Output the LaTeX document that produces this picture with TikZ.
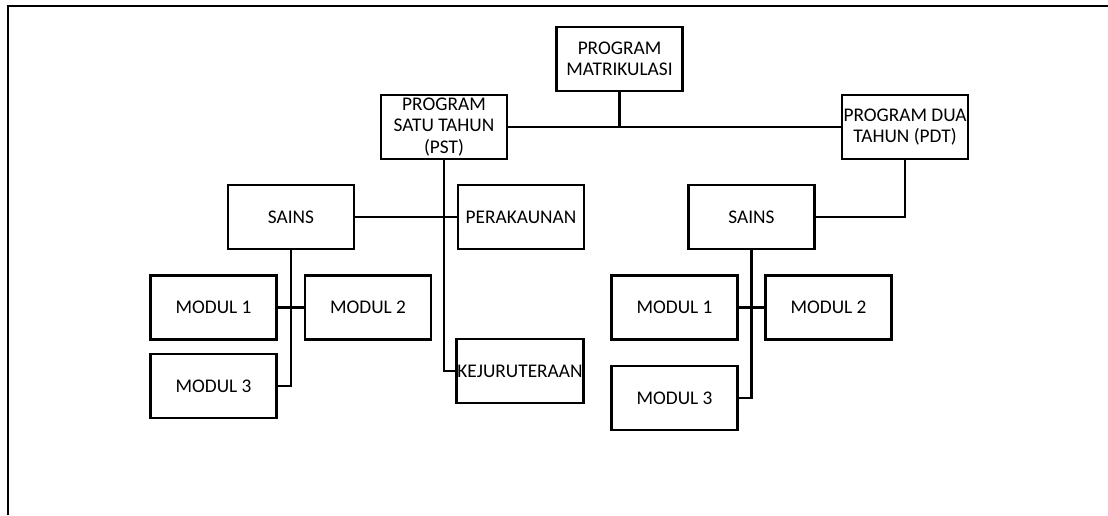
\documentclass[tikz,border=0pt]{standalone}
\usepackage{fontspec}
\setmainfont{Carlito}
\begin{document}
\begin{tikzpicture}[x=0.75pt,y=0.75pt,yscale=-1,xscale=1,
	unitbox/.style={draw,line width=2.2pt,minimum width=94.5pt,minimum height=48pt,inner sep=1pt,align=center,font=\fontsize{14.5}{15.9}\selectfont},
	link/.style={line width=1.9pt}]
	\useasboundingbox (0,0) rectangle (1108,515);

	%Frame
	\draw [line width=1.6pt] (8,515) -- (8,6) -- (1108,6) ;

	% Top level
	\node [unitbox] (mat) at (619.5,59) {PROGRAM\\MATRIKULASI};
	\node [unitbox] (pst) at (444,127) {PROGRAM\\SATU TAHUN\\(PST)};
	\node [unitbox] (pdt) at (905,127) {PROGRAM DUA\\TAHUN (PDT)};

	% Left branch
	\node [unitbox] (sainsA) at (291,217) {SAINS};
	\node [unitbox] (perak) at (521,217) {PERAKAUNAN};
	\node [unitbox] (kej) at (520,371) {KEJURUTERAAN};
	\node [unitbox] (modA1) at (213.5,307.5) {MODUL 1};
	\node [unitbox] (modA2) at (368,307.5) {MODUL 2};
	\node [unitbox] (modA3) at (213.5,386) {MODUL 3};

	% Right branch
	\node [unitbox] (sainsB) at (751.5,217) {SAINS};
	\node [unitbox] (modB1) at (674.5,307.5) {MODUL 1};
	\node [unitbox] (modB2) at (828.5,307.5) {MODUL 2};
	\node [unitbox] (modB3) at (674.5,398) {MODUL 3};

	%Connectors
	\draw [link] (pst.east) -- (pdt.west) ;
	\draw [link] (mat.south) -- (mat.south |- pst.east) ;
	\draw [link] (pst.south) -- (pst.south |- kej.west) -- (kej.west) ;
	\draw [link] (sainsA.east) -- (perak.west) ;
	\draw [link] (sainsA.south) -- (sainsA.south |- modA3.east) -- (modA3.east) ;
	\draw [link] (modA1.east) -- (modA2.west) ;
	\draw [link] (sainsB.east) -- (sainsB.east -| pdt.south) -- (pdt.south) ;
	\draw [link] (sainsB.south) -- (sainsB.south |- modB3.east) -- (modB3.east) ;
	\draw [link] (modB1.east) -- (modB2.west) ;

\end{tikzpicture}
\end{document}
